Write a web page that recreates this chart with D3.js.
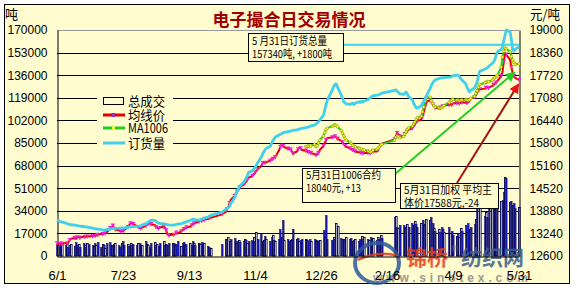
<!DOCTYPE html>
<html>
<head>
<meta charset="utf-8">
<script src="https://cdn.jsdelivr.net/npm/d3@7/dist/d3.min.js"></script>
<style>
  body { margin: 0; background: #fff; }
  svg { display: block; }
</style>
</head>
<body>
<svg id="chart" width="577" height="288"></svg>
<script>
// ---- data ----
const startDate = "2009-06-01", endDate = "2010-05-31";
const holidays = ["2009-10-01","2009-10-02","2009-10-05","2009-10-06","2009-10-07","2009-10-08",
  "2010-01-01","2010-02-15","2010-02-16","2010-02-17","2010-02-18","2010-02-19","2010-04-05","2010-05-03"];

const xTickDates = ["2009-06-01","2009-07-23","2009-09-13","2009-11-04","2009-12-26","2010-02-16","2010-04-09","2010-05-31"];
const xTickLabels = ["6/1","7/23","9/13","11/4","12/26","2/16","4/9","5/31"];
const leftTicks = [0,17000,34000,51000,68000,85000,102000,119000,136000,153000,170000];
const rightTicks = [12600,13240,13880,14520,15160,15800,16440,17080,17720,18360,19000];

// 总成交 (tons), one per trading day
const volume = [
  9000,8500,9500,7000,10000,8000,9500,6500,8500,9000,7500,10500,8000,9000,7000,9500,8500,6500,10000,9000,8000,7500,
  9500,8000,10500,7000,9000,8500,6000,9500,10500,8000,7500,9000,10000,8500,7000,9500,11000,8000,9000,7500,10000,8500,9000,
  8000,9500,10000,7500,8500,11000,9000,8000,7000,9500,10500,8500,9000,7500,10000,11500,8000,9000,8500,10000,9500,
  10000,8500,9000,11000,7500,9500,10500,8000,9000,10000,8500,11000,9500,8000,10000,9000,10500,8500,9500,7500,6500,6000,
  9000,13000,12000,14000,11000,12500,13500,10000,11500,12000,10500,11000,13000,12000,10000,11500,
  12000,14000,11000,18000,13000,17500,11000,12000,15000,12500,11000,14000,16000,12000,11500,13000,20000,14000,27000,12000,12500,
  11000,12000,13000,20000,12500,13500,11500,12000,12500,13000,12000,11500,13000,11000,12500,11000,12000,11500,12000,19500,14000,30800,13000,
  12000,14000,13000,24800,22600,13500,12500,13000,12000,14500,12500,13500,11500,12000,13000,11000,12500,15000,13000,14000,
  13000,12000,14000,12500,13500,12000,14500,13000,15800,13500,29600,30000,22000,21000,23000,
  23000,21000,22000,24000,22000,25000,23000,26000,24000,22000,25000,27000,23000,24000,28000,27000,29600,25000,21000,19000,20000,18000,22000,
  20000,18000,22000,17000,19000,16000,15000,17000,14000,21000,19000,23000,18000,25000,20000,22000,24000,28000,37000,34000,36000,
  30000,33000,29600,36000,38000,41000,35000,43600,40000,41000,42000,48000,59400,58700,40600,41000,38000,39900,36000,37000
];
// 1 = hollow bar, 0 = filled bar
const volumeHollow =
  "0100101001100100101001" + "01001010010110010010100" + "010010110010100101001" + "0100100101001011001001" +
  "0101100101001010" + "010100110100101001010" + "01001010011001010010100" + "01011001010010100101" +
  "010010101001010" + "01010011001010110010100" + "010100101100101001011" + "01001011010010101001";

// 均线价 (yuan/ton)
const avgPrice = [
  12960,12940,12950,12930,12950,12970,12960,12990,13050,13090,13110,13090,13130,13140,13120,13150,13140,13170,13150,13160,13160,13180,
  13170,13190,13200,13230,13220,13250,13240,13260,13390,13420,13460,13400,13350,13330,13300,13320,13300,13340,13420,13480,13520,13540,13500,
  13450,13420,13400,13380,13400,13460,13490,13510,13530,13500,13480,13420,13400,13380,13410,13430,13400,13330,13220,13190,13200,
  13200,13230,13260,13240,13300,13340,13360,13390,13410,13430,13470,13500,13520,13540,13580,13620,13600,13610,13630,13650,13670,13680,
  13780,13850,13920,14000,14100,14200,14300,14390,14430,14480,14550,14620,14670,14700,14760,14820,
  14870,14920,14960,15000,15060,15150,15230,15250,15240,15260,15300,15330,15350,15380,15400,15600,15690,15760,15720,15680,15640,
  15640,15620,15560,15500,15560,15620,15670,15650,15600,15580,15560,15540,15550,15520,15480,15460,15470,15520,15600,15720,15800,15880,15940,
  15960,15980,15990,15960,15920,15860,15820,15760,15720,15690,15650,15620,15600,15590,15560,15540,15530,15520,15510,15520,
  15520,15530,15510,15540,15560,15560,15600,15680,15740,15780,15900,16000,16080,16050,15990,
  16000,16050,16100,16140,16170,16220,16280,16330,16380,16430,16460,16550,16680,16820,16960,17020,16980,16900,16850,16800,16780,16800,16820,
  16840,16860,16880,16900,16880,16920,16930,16950,16920,16940,16950,16940,16930,16960,17000,17060,17100,17160,17220,17280,17320,
  17340,17360,17380,17360,17420,17450,17480,17510,17560,17700,17810,18100,18340,18300,18150,17950,17780,17700,17640,17588
];

// MA1006 (yuan/ton), quoted from this date on
const maStart = "2009-12-14";
const ma1006 = [
  15700,15700,15720,15700,15720,15760,15700,15720,15800,15880,16000,16100,16180,16220,
  16280,16300,16320,16300,16260,16150,16080,16000,15930,15880,15820,15780,15740,15710,15690,15660,15640,15620,15600,15600,
  15580,15560,15540,15560,15600,15620,15650,15700,15740,15760,15880,15960,16000,15980,15950,
  15980,16050,16120,16180,16225,16280,16340,16400,16470,16520,16560,16680,16820,16980,17080,17100,17000,16920,16860,16820,16800,16790,16800,
  16820,16860,16950,17000,17020,17030,17010,17020,17000,17010,17020,17030,17020,17010,17030,17060,17120,17200,17280,17380,17460,
  17500,17520,17540,17530,17580,17620,17650,17680,17720,17950,18235,18400,18490,18470,18380,18250,18150,18080,18027,18040
];

// 订货量 (tons)
const orders = [
  27000,26500,26200,25800,25500,24800,24300,24000,23800,23500,23300,23000,22800,22600,22500,22200,22000,21800,21700,21500,21000,20800,
  20400,20300,20200,19800,19600,19500,19600,19800,20300,20500,20600,20700,20800,20900,21000,21100,21000,21200,21500,21700,21900,22000,22100,
  22300,22400,22500,22600,23200,24200,24800,25500,26300,27000,26800,26000,25200,24800,24500,24200,24000,23800,23600,23400,23300,
  23300,23500,23700,23900,24400,24700,25000,25300,25800,26600,27200,27800,27600,27300,27000,27200,27600,28000,28500,29300,30000,30500,
  33000,35000,35800,36500,37500,39500,44000,46500,49000,51000,52500,55500,57000,58500,60500,63000,
  64000,65500,66500,68000,70000,74500,76500,78500,80000,81000,82500,84500,86500,88000,89500,91000,91500,92000,92500,93000,93500,
  93800,94000,94300,94500,94800,95200,95500,95800,96000,96500,96800,97000,97400,97800,98500,99200,100000,101000,102300,106000,110000,114000,117300,
  125000,127500,129000,129500,127000,121000,118500,116000,115000,114500,114000,114500,115000,114000,115000,116000,115500,116500,115800,116500,
  117500,118500,119000,120000,120500,121000,121200,121500,122000,122500,124500,125000,124000,123000,122000,
  121500,122500,123400,122000,120000,117300,115000,113000,111500,111300,113000,115000,116000,118500,120500,126000,128500,130100,131500,132500,133500,133900,134000,
  134000,134200,134500,134600,135000,135500,136000,136100,135000,133500,132400,129500,127100,125000,123400,124500,126400,128500,130900,135000,139000,
  140500,141000,141400,142500,145000,145900,148000,151000,153500,155500,157200,162000,166000,170000,168500,163000,155000,154000,155540,157340
];

const legendItems = ["总成交","均线价","MA1006","订货量"];
const noteOrders = ["5 月31日订货总量", "157340吨, +1800吨"];
const noteMa = ["5月31日1006合约", "18040元, +13"];
const noteAvg = ["5月31日加权 平均主", "体价17588元,-24"];

// ---- build ----
const parse = d3.utcParse("%Y-%m-%d");
const fmt = d3.utcFormat("%Y-%m-%d");
const allDays = d3.utcDay.range(parse(startDate), d3.utcDay.offset(parse(endDate), 1));
const tradeDays = allDays.filter(d => d.getUTCDay() % 6 !== 0 && !holidays.includes(fmt(d)));
if (tradeDays.length !== volume.length || volume.length !== avgPrice.length || volume.length !== orders.length
    || volumeHollow.length !== volume.length)
  throw new Error("length mismatch " + [tradeDays.length, volume.length, avgPrice.length, orders.length, volumeHollow.length]);
const maDays = tradeDays.filter(d => d >= parse(maStart));
if (maDays.length !== ma1006.length) throw new Error("ma mismatch " + maDays.length + " " + ma1006.length);

const vol = tradeDays.map((d, i) => ({date: d, v: volume[i], hollow: volumeHollow[i] === "1"}));
const avg = tradeDays.map((d, i) => ({date: d, v: avgPrice[i]}));
const ord = tradeDays.map((d, i) => ({date: d, v: orders[i]}));
const ma = maDays.map((d, i) => ({date: d, v: ma1006[i]}));

const bg = "#fffcd0";
const numFont = "'Liberation Sans', Arial, sans-serif";
const cjkFont = "'Noto Sans CJK SC', sans-serif";

const x = d3.scaleUtc().domain([parse(startDate), parse(endDate)]).range([57, 519]);
const yL = d3.scaleLinear().domain([0, 170000]).range([256, 30]);
const yR = d3.scaleLinear().domain([12600, 19000]).range([256, 30]);

const svg = d3.select("#chart");
svg.append("rect").attr("width", 577).attr("height", 288).attr("fill", "#fff");
svg.append("rect").attr("x", 4.5).attr("y", 4.5).attr("width", 565).attr("height", 279)
  .attr("fill", bg).attr("stroke", "#000");

// grid
svg.append("g").selectAll("line").data(leftTicks.filter(d => d > 0)).join("line")
  .attr("x1", 57).attr("x2", 519)
  .attr("y1", d => Math.round(yL(d)) + 0.5).attr("y2", d => Math.round(yL(d)) + 0.5)
  .attr("stroke", d => d === 170000 ? "#999" : "#000").attr("stroke-width", 1);

// bars
svg.append("g").selectAll("rect").data(vol).join("rect")
  .attr("x", d => Math.round(x(d.date)) - 0.5)
  .attr("y", d => Math.round(yL(d.v)) + 0.5)
  .attr("width", 1.6)
  .attr("height", d => 256 - Math.round(yL(d.v)) - 0.5)
  .attr("fill", d => d.hollow ? "#fff" : "#1a1ac8")
  .attr("stroke", "#000050").attr("stroke-width", d => d.hollow ? 0.9 : 0.5);

// axes
const styleAxis = g => {
  g.attr("font-family", numFont).attr("font-size", 12);
  g.selectAll("text").attr("fill", "#000");
  g.select(".domain").attr("stroke", "#000");
};
svg.append("g").attr("transform", "translate(57.5,0)")
  .call(d3.axisLeft(yL).tickValues(leftTicks).tickSize(0).tickPadding(10).tickFormat(d3.format("d")))
  .call(styleAxis);
svg.append("g").attr("transform", "translate(519.5,0)")
  .call(d3.axisRight(yR).tickValues(rightTicks).tickSize(0).tickPadding(10).tickFormat(d3.format("d")))
  .call(styleAxis);

// 均线价
const lineR = d3.line().x(d => x(d.date)).y(d => yR(d.v));
const lineL = d3.line().x(d => x(d.date)).y(d => yL(d.v));
svg.append("path").datum(avg).attr("d", lineR).attr("fill", "none")
  .attr("stroke", "#e80000").attr("stroke-width", 2);
svg.append("g").selectAll("path").data(avg.filter((d, i) => i % 2 === 0)).join("path")
  .attr("transform", d => `translate(${x(d.date)},${yR(d.v)})`)
  .attr("d", "M-2,-1.5H2M0,-1.5V2")
  .attr("stroke", "#ee22dd").attr("stroke-width", 1.3).attr("fill", "none");

// MA1006
svg.append("path").datum(ma).attr("d", lineR).attr("fill", "none")
  .attr("stroke", "#22cc22").attr("stroke-width", 2);
svg.append("g").selectAll("circle").data(ma).join("circle")
  .attr("cx", d => x(d.date)).attr("cy", d => yR(d.v)).attr("r", 1.4)
  .attr("fill", "#ffff22").attr("stroke", "#6b6b00").attr("stroke-width", 0.4);

// 订货量
svg.append("path").datum(ord).attr("d", lineL).attr("fill", "none")
  .attr("stroke", "#3fd0ee").attr("stroke-width", 2.8).attr("stroke-linejoin", "round");

// ---- annotations ----
const defs = svg.append("defs");
const arrow = (id, color) => defs.append("marker").attr("id", id).attr("viewBox", "0 0 10 10")
  .attr("refX", 8).attr("refY", 5).attr("markerWidth", 5).attr("markerHeight", 5)
  .attr("orient", "auto").append("path").attr("d", "M0,0L10,5L0,10z").attr("fill", color);
arrow("ag", "#22cc22");
arrow("ar", "#ee1111");

const lastOrd = ord[ord.length - 1], lastMa = ma[ma.length - 1], lastAvg = avg[avg.length - 1];
svg.append("line").attr("x1", 343).attr("y1", yL(lastOrd.v) - 2).attr("x2", x(lastOrd.date)).attr("y2", yL(lastOrd.v) - 2)
  .attr("stroke", "#3fd0ee").attr("stroke-width", 2);
svg.append("line").attr("x1", 395).attr("y1", 174).attr("x2", x(lastMa.date) - 5).attr("y2", yR(lastMa.v) + 9)
  .attr("stroke", "#22cc22").attr("stroke-width", 2).attr("marker-end", "url(#ag)");
svg.append("line").attr("x1", 457).attr("y1", 183).attr("x2", x(lastAvg.date) - 1).attr("y2", yR(lastAvg.v) + 5)
  .attr("stroke", "#a01818").attr("stroke-width", 2).attr("marker-end", "url(#ar)");

const note = (bx, by, bw, bh, lines, lens, base) => {
  const g = svg.append("g");
  g.append("rect").attr("x", bx + 0.5).attr("y", by + 0.5).attr("width", bw).attr("height", bh)
    .attr("fill", bg).attr("stroke", "#000");
  g.selectAll("text").data(lines).join("text")
    .attr("x", bx + 4).attr("y", (d, i) => base + i * 13)
    .attr("textLength", (d, i) => lens[i]).attr("lengthAdjust", "spacingAndGlyphs")
    .attr("font-family", cjkFont).attr("font-size", 11).attr("fill", "#000").text(d => d);
};
note(248, 33, 95, 28, noteOrders, [75, 80], 45);
note(302, 168, 93, 34, noteMa, [75, 55], 179);
note(400, 183, 98, 25, noteAvg, [88, 75], 194);

// ---- legend ----
const lg = svg.append("g");
lg.append("rect").attr("x", 97).attr("y", 93).attr("width", 76).attr("height", 57).attr("fill", bg);
const rowY = [101, 115, 128, 143];
lg.append("rect").attr("x", 103.5).attr("y", 97.5).attr("width", 20).attr("height", 7)
  .attr("fill", bg).attr("stroke", "#000");
lg.append("line").attr("x1", 103).attr("x2", 125).attr("y1", rowY[1]).attr("y2", rowY[1])
  .attr("stroke", "#e80000").attr("stroke-width", 3);
lg.append("rect").attr("x", 112).attr("y", rowY[1] - 1.5).attr("width", 3).attr("height", 3)
  .attr("fill", "#ee22dd").attr("stroke", "#2222aa").attr("stroke-width", 0.6);
lg.append("line").attr("x1", 103).attr("x2", 125).attr("y1", rowY[2]).attr("y2", rowY[2])
  .attr("stroke", "#22cc22").attr("stroke-width", 3);
lg.append("rect").attr("x", 112).attr("y", rowY[2] - 1.5).attr("width", 3).attr("height", 3)
  .attr("fill", "#ffff22");
lg.append("line").attr("x1", 103).attr("x2", 125).attr("y1", rowY[3]).attr("y2", rowY[3])
  .attr("stroke", "#3fd0ee").attr("stroke-width", 3);
lg.selectAll("text").data(legendItems).join("text")
  .attr("x", 128).attr("y", (d, i) => rowY[i] + 5)
  .attr("textLength", d => d === "MA1006" ? 40 : 37).attr("lengthAdjust", "spacingAndGlyphs")
  .attr("font-family", cjkFont).attr("font-size", 13).attr("fill", "#000").text(d => d);

// ---- titles ----
svg.append("text").attr("x", 289).attr("y", 26).attr("text-anchor", "middle")
  .attr("font-family", cjkFont).attr("font-weight", "bold").attr("font-size", 17)
  .attr("fill", "#a00000").text("电子撮合日交易情况");
svg.append("text").attr("x", 5).attr("y", 19).attr("font-family", cjkFont).attr("font-size", 13).text("吨");
svg.append("text").attr("x", 530).attr("y", 19).attr("font-family", cjkFont).attr("font-size", 13)
  .attr("textLength", 30).attr("lengthAdjust", "spacingAndGlyphs").text("元/吨");

// ---- watermark (site logo printed over the lower right) ----
const wm = svg.append("g").attr("opacity", 0.85);
wm.append("ellipse").attr("cx", 377).attr("cy", 263).attr("rx", 22).attr("ry", 20)
  .attr("fill", "none").attr("stroke", "#2d5a9a").attr("stroke-width", 4);
wm.append("path").attr("d", "M358,260Q377,250 398,256").attr("fill", "none")
  .attr("stroke", "#e03a1c").attr("stroke-width", 2.5);
wm.append("text").attr("x", 406).attr("y", 265).attr("font-family", cjkFont).attr("font-weight", "bold")
  .attr("font-size", 21).attr("fill", "#e8401e").text("锦桥");
wm.append("text").attr("x", 451).attr("y", 252).attr("font-family", numFont).attr("font-size", 9)
  .attr("fill", "#777").text("®");
wm.append("text").attr("x", 461).attr("y", 265).attr("font-family", cjkFont).attr("font-weight", "bold")
  .attr("font-size", 21).attr("fill", "#3d5f8c").text("纺织网");
wm.append("text").attr("x", 373).attr("y", 282).attr("font-family", numFont).attr("font-weight", "bold")
  .attr("font-size", 12).attr("fill", "#8a8a8a")
  .attr("textLength", 155).attr("lengthAdjust", "spacing").text("www.sinotex.com");

// x axis labels sit above the watermark, as in the reference
svg.append("g").attr("transform", "translate(0,256.5)")
  .call(d3.axisBottom(x).tickValues(xTickDates.map(parse)).tickSize(0).tickPadding(14)
    .tickFormat((d, i) => xTickLabels[i]))
  .call(styleAxis)
  .attr("font-size", 13);
</script>
</body>
</html>
